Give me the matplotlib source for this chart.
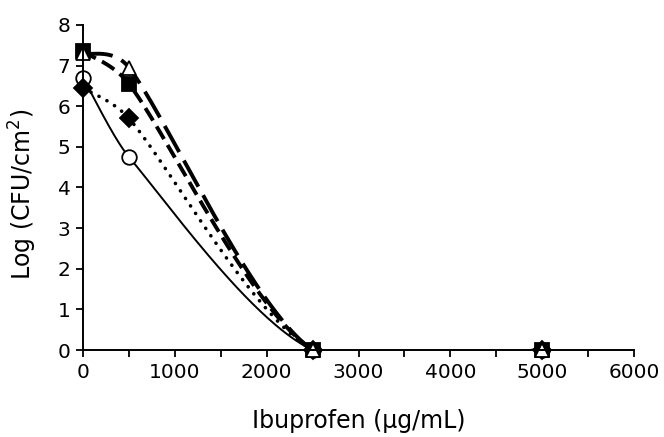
import numpy as np
import matplotlib.pyplot as plt

# ------------------------------
# Data
# ------------------------------
ibuprofen = [0, 500, 2500, 5000]
circles = [6.70, 4.75, 0.0, 0.0]
diamonds = [6.45, 5.70, 0.0, 0.0]
squares = [7.35, 6.55, 0.0, 0.0]
triangles = [7.30, 6.95, 0.0, 0.0]
x_ticks = list(range(0, 6001, 500))
x_labels = [str(v) if v % 1000 == 0 else '' for v in x_ticks]
y_ticks = list(range(0, 9))


def smooth(xs, ys, n=80):
    # Excel-like smoothed line: Bezier segments, control points from the
    # neighbours (Catmull-Rom, 1/6), shortened so they stay inside the segment
    pts = np.column_stack([xs, ys]).astype(float)
    out = []
    for i in range(len(pts) - 1):
        p0 = pts[i - 1] if i > 0 else pts[i]
        p1, p2 = pts[i], pts[i + 1]
        p3 = pts[i + 2] if i + 2 < len(pts) else pts[i + 1]
        h = p2[0] - p1[0]
        d1 = (p2 - p0) / 6
        d2 = (p3 - p1) / 6
        if abs(d1[0]) > h / 3:
            d1 = d1 * (h / 3) / abs(d1[0])
        if abs(d2[0]) > h / 3:
            d2 = d2 * (h / 3) / abs(d2[0])
        c1 = p1 + d1
        c2 = p2 - d2
        t = np.linspace(0, 1, n)[:, None]
        seg = (1 - t)**3 * p1 + 3 * (1 - t)**2 * t * c1 + 3 * (1 - t) * t**2 * c2 + t**3 * p2
        out.append(seg if i == 0 else seg[1:])
    seg = np.vstack(out)
    return seg[:, 0], seg[:, 1]


plt.rcParams['font.family'] = ['DejaVu Sans']
plt.rcParams['lines.scale_dashes'] = False
fig = plt.figure(figsize=(6.64, 4.37), dpi=100)
ax = fig.add_axes([0.125, 0.199, 0.830, 0.744])

series = [
    (circles, '-', 1.4, 'round', 'o', 'white', 10.5),
    (diamonds, (0, (0.1, 6.4)), 2.6, 'round', 'D', 'black', 9.5),
    (squares, (0, (10.5, 5.0)), 2.8, 'butt', 's', 'black', 10),
    (triangles, (0, (21.5, 7.0)), 2.8, 'butt', '^', 'white', 10),
]

for ys, ls, lw, cap, mk, fc, ms in series:
    sx, sy = smooth(ibuprofen, ys)
    ax.plot(sx, sy, color='black', linestyle=ls, linewidth=lw, dash_capstyle=cap)
    ax.plot(ibuprofen, ys, linestyle='none', marker=mk, markerfacecolor=fc,
            markeredgecolor='black', markeredgewidth=1.3, markersize=ms, clip_on=False)

ax.set_xlim(0, 6000)
ax.set_ylim(0, 8)
ax.set_xticks(x_ticks)
ax.set_xticklabels(x_labels)
ax.set_yticks(y_ticks)
ax.spines['top'].set_visible(False)
ax.spines['right'].set_visible(False)
ax.spines['left'].set_linewidth(1.4)
ax.spines['bottom'].set_linewidth(1.4)
ax.tick_params(direction='out', length=5, width=1.3, labelsize=14.5, pad=4)
ax.set_xlabel('Ibuprofen (µg/mL)', fontsize=17)
ax.set_ylabel('Log (CFU/cm$^2$)', fontsize=17)
ax.xaxis.set_label_coords(0.5, -0.18)
ax.yaxis.set_label_coords(-0.079, 0.48)

plt.savefig('out.png', dpi=100)
